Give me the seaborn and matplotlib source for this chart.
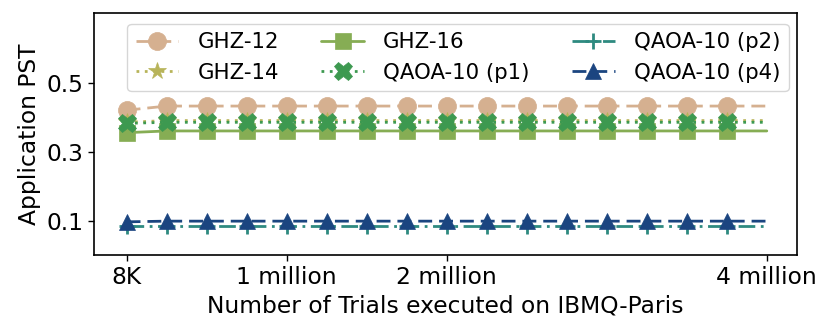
import numpy as np
import pandas as pd
import matplotlib
matplotlib.use("Agg")
import matplotlib.pyplot as plt
import seaborn as sns

# trials: 8K, then every 250K up to 4 million (positions 0..16)
trial_pos = list(range(17))
tick_pos = [0, 4, 8, 16]
tick_labels = ["8K", "1 million", "2 million", "4 million"]

ghz12 = [0.42] + [0.432] * 16
ghz14 = [0.385] + [0.39] * 16
ghz16 = [0.355] + [0.36] * 16
qaoa_p1 = [0.382] + [0.385] * 16
qaoa_p2 = [0.084] * 17
qaoa_p4 = [0.097] + [0.099] * 16

series = [
    ("GHZ-12", ghz12, "#d5b090", "o", (0, (5, 2.5)), 13),
    ("GHZ-14", ghz14, "#b8b45a", "*", (0, (1, 2)), 13),
    ("GHZ-16", ghz16, "#86ad54", "s", "-", 12),
    ("QAOA-10 (p1)", qaoa_p1, "#3d9950", "X", (0, (1, 2)), 13),
    ("QAOA-10 (p2)", qaoa_p2, "#2e8a80", "+", (0, (6, 2, 1, 2)), 12),
    ("QAOA-10 (p4)", qaoa_p4, "#1b4580", "^", (0, (5, 2.5)), 12),
]

sns.set_style("ticks")
plt.rcParams["font.family"] = ["DejaVu Sans"]
plt.rcParams.update({"text.color": "black", "axes.labelcolor": "black",
                     "xtick.color": "black", "ytick.color": "black"})

fig, ax = plt.subplots(figsize=(8.3, 3.36), dpi=100)
fig.subplots_adjust(left=0.113, right=0.960, top=0.96, bottom=0.24)

for name, vals, col, mk, ls, ms in series:
    df = pd.DataFrame({"x": trial_pos, "y": vals})
    sns.lineplot(data=df, x="x", y="y", ax=ax, color=col, marker=mk,
                 markersize=ms, markeredgewidth=2 if mk == "+" else 0.5,
                 markeredgecolor=col, linewidth=2, linestyle=ls, label=name,
                 markevery=list(range(16)))

ax.set_xlim(-0.82, 16.75)
ax.set_ylim(0, 0.7)
ax.set_yticks([0.1, 0.3, 0.5])
ax.set_xticks(tick_pos)
ax.set_xticklabels(tick_labels)
ax.tick_params(labelsize=16.8, direction="out", length=4, width=1, color="black")
ax.set_xlabel("Number of Trials executed on IBMQ-Paris", fontsize=16.8)
ax.set_ylabel("Application PST", fontsize=16.8)
for s in ax.spines.values():
    s.set_color("black")
    s.set_linewidth(1.2)

ax.legend(loc="upper center", ncol=3, fontsize=15.3, frameon=True,
          bbox_to_anchor=(0.518, 0.975), columnspacing=2.0, handlelength=2.0,
          handletextpad=0.9, borderpad=0.4, labelspacing=0.5, borderaxespad=0.2)

fig.savefig("out.png", dpi=100)
